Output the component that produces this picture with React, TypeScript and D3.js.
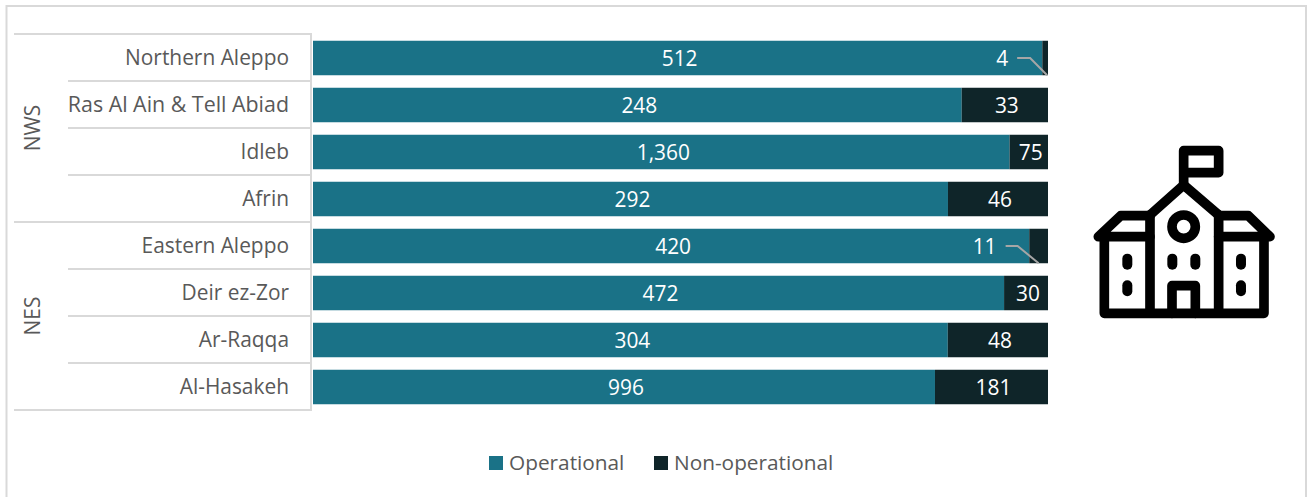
import React from "react";
import * as d3 from "d3";

const regions = ["Northern Aleppo", "Ras Al Ain & Tell Abiad", "Idleb", "Afrin", "Eastern Aleppo", "Deir ez-Zor", "Ar-Raqqa", "Al-Hasakeh"];
const groups = ["NWS", "NES"];
const groupSizes = [4, 4];
const operational = [512, 248, 1360, 292, 420, 472, 304, 996];
const nonOperational = [4, 33, 75, 46, 11, 30, 48, 181];
const seriesNames = ["Operational", "Non-operational"];
const seriesColors = ["#1A7287", "#0F2529"];

const W = 1308, H = 497;
const FONT = "'Open Sans', sans-serif";
const GRID = "#D9D9D9";
const TEXT = "#595959";
const FS = 20.9;

// Manually-moved labels with leader lines, as dx from segment centre
const leaders: Record<number, { labelDx: number; startDx: number; bendDx: number; endDx: number }> = {
  0: { labelDx: -43, startDx: 15, bendDx: 28, endDx: 2 },
  4: { labelDx: -54, startDx: 21, bendDx: 33, endDx: 0 },
};
const LABEL_SHIFT = 2;

const rows = regions.map((r, i) => ({ r, Operational: operational[i], "Non-operational": nonOperational[i] }));
const stacked = d3.stack<any>().keys(seriesNames).offset(d3.stackOffsetExpand)(rows);
const y = d3.scaleBand<string>().domain(regions).range([34.5, 410.5]).paddingInner(0.266).paddingOuter(0.133);
const x = d3.scaleLinear().domain([0, 1]).range([313, 1048]);
const fmt = d3.format(",");

const axisRight = 311;

function Icon() {
  const sw = 29;
  const common = { fill: "none", stroke: "#000", strokeWidth: sw, strokeLinecap: "round" as const, strokeLinejoin: "round" as const };
  const pills: [number, number][] = [[142, 380], [142, 460], [277, 380], [346, 380], [483, 380], [483, 460]];
  return (
    <g transform="translate(1080,135) scale(0.3333)">
      <path {...common} d="M311,150V47H416V113H311" />
      <path {...common} d="M210,240L311,150L416,240" />
      <path {...common} d="M210,242H122L55,305H210M416,242H505L570,305H416" />
      <path {...common} d="M210,240V535M416,240V535M73,305V535H552V305" />
      <circle {...common} cx={311} cy={275} r={35} />
      <path {...common} d="M276,535V452H346V535" />
      {pills.map(([a, b], i) => (
        <rect key={i} x={a - 15} y={b - 24} width={30} height={48} rx={15} fill="#000" />
      ))}
    </g>
  );
}

export default function App() {
  const gap = y.step() - y.bandwidth();
  const bounds = regions.map(r => y(r)! - gap / 2 - 0.5);
  const bottom = 410;
  let start = 0;
  const groupSpans = groups.map((g, i) => {
    const from = bounds[start];
    const end = start + groupSizes[i];
    const to = end < regions.length ? bounds[end] : bottom;
    start = end;
    return { g, from, to };
  });
  return (
    <svg width={W} height={H} style={{ position: "absolute", left: 0, top: 0, background: "#fff" }} fontFamily={FONT}>
      <rect x={6.5} y={6} width={1299.5} height={510} fill="#fff" stroke={GRID} strokeWidth={2} />

      {/* category axis */}
      <g stroke={GRID} strokeWidth={2}>
        <line x1={axisRight} x2={axisRight} y1={33} y2={411} />
        {bounds.map((b, i) => <line key={i} x1={68} x2={axisRight} y1={b} y2={b} />)}
        <line x1={14} x2={axisRight} y1={bottom} y2={bottom} />
        {groupSpans.map(s => <line key={s.g} x1={14} x2={68} y1={s.from} y2={s.from} />)}
      </g>
      {regions.map(r => (
        <text key={r} x={289} y={y(r)! + y.bandwidth() / 2} textAnchor="end" dy="0.35em" fontSize={r.length > 20 ? 21.4 : FS} fill={TEXT}>{r}</text>
      ))}
      {groupSpans.map(s => (
        <text key={s.g} transform={`translate(33,${(s.from + s.to) / 2}) rotate(-90)`} textAnchor="middle" dy="0.35em" fontSize={FS} fill={TEXT}>{s.g}</text>
      ))}

      {/* bars */}
      {stacked.map((ser, si) => (
        <g key={ser.key}>
          {ser.map((d, i) => (
            <rect key={i} x={x(d[0])} y={y(regions[i])!} width={x(d[1]) - x(d[0])} height={y.bandwidth()} fill={seriesColors[si]} />
          ))}
        </g>
      ))}

      {/* leader lines */}
      {stacked[1].map((d, i) => {
        const l = leaders[i];
        if (!l) return null;
        const cx = (x(d[0]) + x(d[1])) / 2;
        const cy = y(regions[i])! + y.bandwidth() / 2;
        const lx = cx + l.labelDx;
        const bend = d3.line()([[lx + l.startDx, cy], [lx + l.bendDx, cy], [cx + l.endDx, cy + y.bandwidth() / 2]]);
        return <path key={i} d={bend!} fill="none" stroke="#A6A6A6" strokeWidth={2} />;
      })}

      {/* data labels */}
      {stacked.map((ser, si) => ser.map((d, i) => {
        const v = si === 0 ? operational[i] : nonOperational[i];
        const l = si === 1 ? leaders[i] : undefined;
        const cx = (x(d[0]) + x(d[1])) / 2 + (l ? l.labelDx : LABEL_SHIFT);
        return (
          <text key={`${si}-${i}`} x={cx} y={y(regions[i])! + y.bandwidth() / 2 + 0.5} textAnchor="middle" dy="0.35em" fontSize={FS} fill="#fff">{fmt(v)}</text>
        );
      }))}

      <Icon />

      {/* legend */}
      {seriesNames.map((n, i) => {
        const sx = [489, 654][i];
        return (
          <g key={n}>
            <rect x={sx} y={456} width={14} height={14} fill={seriesColors[i]} />
            <text x={sx + 20} y={463} dy="0.35em" fontSize={20.8} fill={TEXT}>{n}</text>
          </g>
        );
      })}
    </svg>
  );
}
